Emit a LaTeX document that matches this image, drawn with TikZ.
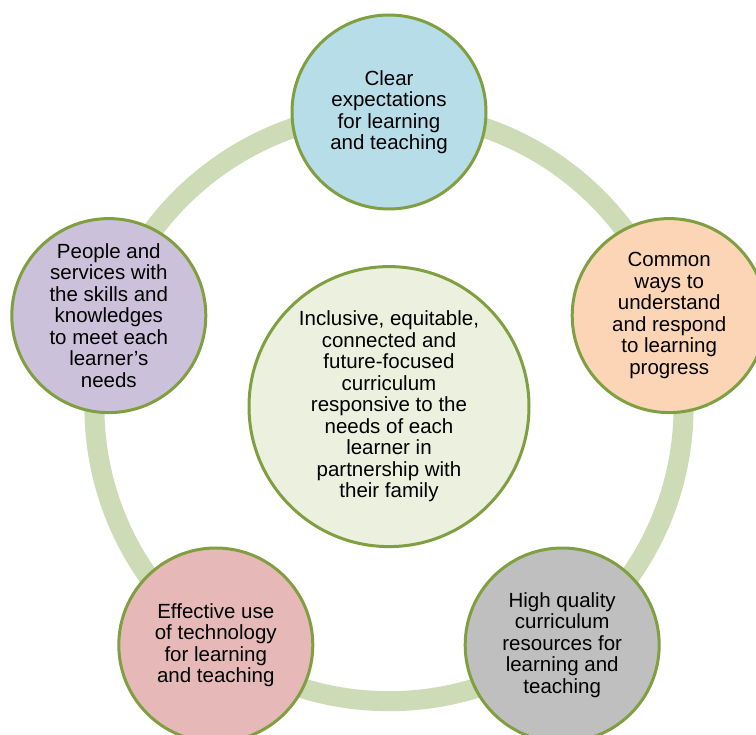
\documentclass[tikz,border=0pt]{standalone}
\usepackage{fontspec}
\setmainfont{Liberation Sans}
\definecolor{ringc}{HTML}{CDDBB6}
\definecolor{bord}{HTML}{7F9F40}
\definecolor{cfill}{HTML}{EBF1DE}
\definecolor{topf}{HTML}{B7DDE8}
\definecolor{rightf}{HTML}{FBD5B5}
\definecolor{brf}{HTML}{BFBFBF}
\definecolor{blf}{HTML}{E6B9B8}
\definecolor{leftf}{HTML}{CCC1DA}
\tikzset{
  bubble/.style={circle, draw=bord, line width=3pt, minimum size=194pt, inner sep=0pt, align=center,
    font=\fontsize{20.5}{21.5}\selectfont},
  hub/.style={bubble, minimum size=280pt, fill=cfill}
}
\begin{document}
\begin{tikzpicture}[x=1pt,y=-1pt]
\useasboundingbox (0,0) rectangle (756,735);
\fill[white] (0,0) rectangle (756,735);
\coordinate (o) at (389,406.6);
\draw[ringc, line width=20pt] (o) circle[radius=294.6];
\node[hub] (c0) at (o) {Inclusive, equitable,\\connected and\\future-focused\\curriculum\\responsive to the\\needs of each\\learner in\\partnership with\\their family};
\node[bubble, fill=topf] (n1) at (389,112) {Clear\\expectations\\for learning\\and teaching};
\node[bubble, fill=rightf] (n2) at (669.2,315.6) {Common\\ways to\\understand\\and respond\\to learning\\progress};
\node[bubble, fill=brf] (n3) at (562.2,645) {High quality\\curriculum\\resources for\\learning and\\teaching};
\node[bubble, fill=blf] (n4) at (215.8,645) {Effective use\\of technology\\for learning\\and teaching};
\node[bubble, fill=leftf] (n5) at (108.8,315.6) {People and\\services with\\the skills and\\knowledges\\to meet each\\learner’s\\needs};
\end{tikzpicture}
\end{document}
